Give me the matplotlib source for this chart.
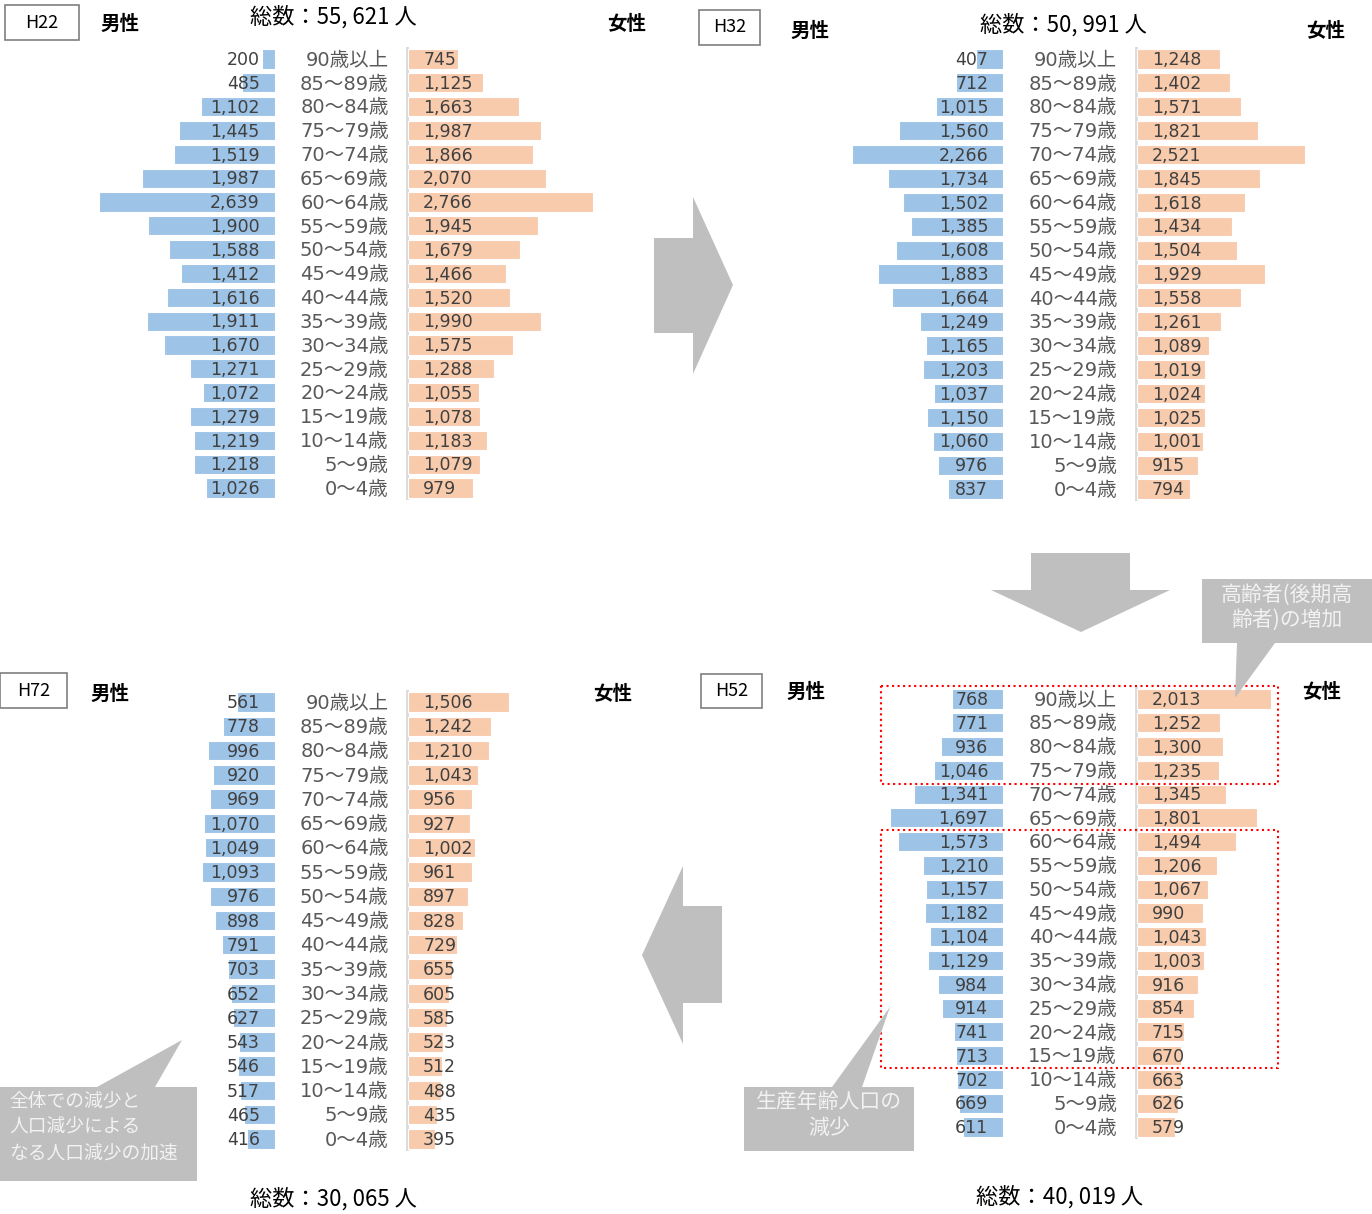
import numpy as np
import matplotlib
matplotlib.use("Agg")
import matplotlib.pyplot as plt
from matplotlib.patches import Rectangle, Polygon

plt.rcParams['font.family'] = ['DejaVu Sans', 'Noto Sans CJK JP']

# age groups, top to bottom
ages = ["90歳以上", "85～89歳", "80～84歳", "75～79歳", "70～74歳", "65～69歳",
        "60～64歳", "55～59歳", "50～54歳", "45～49歳", "40～44歳", "35～39歳",
        "30～34歳", "25～29歳", "20～24歳", "15～19歳", "10～14歳", "5～9歳", "0～4歳"]

h22_male = [200, 485, 1102, 1445, 1519, 1987, 2639, 1900, 1588, 1412, 1616, 1911, 1670, 1271, 1072, 1279, 1219, 1218, 1026]
h22_female = [745, 1125, 1663, 1987, 1866, 2070, 2766, 1945, 1679, 1466, 1520, 1990, 1575, 1288, 1055, 1078, 1183, 1079, 979]

h32_male = [407, 712, 1015, 1560, 2266, 1734, 1502, 1385, 1608, 1883, 1664, 1249, 1165, 1203, 1037, 1150, 1060, 976, 837]
h32_female = [1248, 1402, 1571, 1821, 2521, 1845, 1618, 1434, 1504, 1929, 1558, 1261, 1089, 1019, 1024, 1025, 1001, 915, 794]

h52_male = [768, 771, 936, 1046, 1341, 1697, 1573, 1210, 1157, 1182, 1104, 1129, 984, 914, 741, 713, 702, 669, 611]
h52_female = [2013, 1252, 1300, 1235, 1345, 1801, 1494, 1206, 1067, 990, 1043, 1003, 916, 854, 715, 670, 663, 626, 579]

h72_male = [561, 778, 996, 920, 969, 1070, 1049, 1093, 976, 898, 791, 703, 652, 627, 543, 546, 517, 465, 416]
h72_female = [1506, 1242, 1210, 1043, 956, 927, 1002, 961, 897, 828, 729, 655, 605, 585, 523, 512, 488, 435, 395]

totals = ["総数：55, 621 人", "総数：50, 991 人", "総数：40, 019 人", "総数：30, 065 人"]
years = ["H22", "H32", "H52", "H72"]

W, H = 1372, 1214
U = 15.0        # persons per pixel
GAP = 1000      # half gap between male and female bars (persons)
MALE_C = '#9DC3E6'
FEMALE_C = '#F8CBAD'
NARROW = ['Liberation Sans Narrow', 'Noto Sans CJK JP']
CJK = ['Noto Sans CJK JP', 'DejaVu Sans']

fig = plt.figure(figsize=(W / 100, H / 100), dpi=100)


def draw_panel(c, y_top, y_bot, male, female):
    dy = (y_bot - y_top) / 18
    pl = c - 330
    pr = min(c + 302, W)
    ax = fig.add_axes([pl / W, 1 - (y_bot + dy / 2) / H, (pr - pl) / W, (y_bot - y_top + dy) / H])
    ax.set_xlim((pl - c) * U, (pr - c) * U)
    ax.set_ylim(18.5, -0.5)
    ax.axis('off')
    y = np.arange(len(ages))
    male = np.array(male)
    female = np.array(female)
    ax.plot([GAP - 15, GAP - 15], [-0.5, 18.5], color='#D9D9D9', lw=2, zorder=1)
    ax.barh(y, -male, left=-GAP, height=0.8, color=MALE_C, edgecolor='white', lw=0.8, zorder=2)
    ax.barh(y, female, left=GAP, height=0.8, color=FEMALE_C, edgecolor='white', lw=0.8, zorder=2)
    for i in range(len(ages)):
        ax.text(-GAP - 15 * U, i + 0.05, f"{male[i]:,}", ha='right', va='center',
                fontsize=12.5, color='#404040', zorder=3)
        ax.text(GAP + 15 * U, i + 0.05, f"{female[i]:,}", ha='left', va='center',
                fontsize=12.5, color='#404040', zorder=3)
        ax.text(47 * U, i + 0.05, ages[i], ha='right', va='center',
                fontsize=14, color='#595959', zorder=3)
    return ax


draw_panel(341.5, 59, 488, h22_male, h22_female)
draw_panel(1070, 59, 489, h32_male, h32_female)
draw_panel(1070, 699, 1127, h52_male, h52_female)
draw_panel(341.5, 702, 1139, h72_male, h72_female)

# overlay in pixel coordinates for labels, arrows and callouts
ov = fig.add_axes([0, 0, 1, 1], zorder=10)
ov.set_xlim(0, W)
ov.set_ylim(H, 0)
ov.axis('off')

# year boxes
for (x0, y0, x1, y1), yr in zip([(5, 5, 79, 40), (699, 10, 760, 45), (701, 674, 762, 708), (0, 673, 67, 708)], years):
    ov.add_patch(Rectangle((x0, y0), x1 - x0, y1 - y0, fill=False, ec='#7F7F7F', lw=1.2))
    ov.text((x0 + x1) / 2, (y0 + y1) / 2, yr, ha='center', va='center', fontsize=13, family=NARROW)

# sex labels
for x, y in [(120, 24), (810, 31), (806, 692), (110, 694)]:
    ov.text(x, y, "男性", ha='center', va='center', fontsize=14, fontweight='bold', family=CJK)
for x, y in [(627, 24), (1326, 31), (1322, 692), (613, 694)]:
    ov.text(x, y, "女性", ha='center', va='center', fontsize=14, fontweight='bold', family=CJK)

# totals
for (x, y), t in zip([(333, 17), (1063, 25), (1060, 1197), (333, 1199)], totals):
    ov.text(x, y, t, ha='center', va='center', fontsize=16, family=NARROW)

# arrows
grey = '#BFBFBF'
ov.add_patch(Polygon([(654, 238), (693, 238), (693, 197), (733, 285), (693, 374), (693, 333), (654, 333)],
                     closed=True, fc=grey, ec='none'))
ov.add_patch(Polygon([(1031, 553), (1130, 553), (1130, 590), (1170, 590), (1081, 632), (991, 590), (1031, 590)],
                     closed=True, fc=grey, ec='none'))
ov.add_patch(Polygon([(722, 906), (683, 906), (683, 866), (642, 955), (683, 1044), (683, 1003), (722, 1003)],
                     closed=True, fc=grey, ec='none'))

# red dotted frames
ov.add_patch(Rectangle((881, 686), 397, 98, fill=False, ec='#FF0000', lw=1.5, ls=':'))
ov.add_patch(Rectangle((881, 830), 397, 238, fill=False, ec='#FF0000', lw=1.5, ls=':'))

# callouts
ov.add_patch(Polygon([(1202, 579), (1372, 579), (1372, 643), (1275, 643), (1235, 698), (1237, 643), (1202, 643)],
                     closed=True, fc=grey, ec='none'))
ov.text(1287, 607, "高齢者(後期高\n齢者)の増加", ha='center', va='center', fontsize=15,
        color='#F2F2F2', family=CJK, linespacing=1.2)

ov.add_patch(Polygon([(744, 1087), (832, 1087), (890, 1007), (862, 1087), (914, 1087), (914, 1151), (744, 1151)],
                     closed=True, fc=grey, ec='none'))
ov.text(829, 1115, "生産年齢人口の\n減少", ha='center', va='center', fontsize=15,
        color='#F2F2F2', family=CJK, linespacing=1.2)

ov.add_patch(Polygon([(0, 1087), (97, 1087), (182, 1040), (155, 1087), (197, 1087), (197, 1181), (0, 1181)],
                     closed=True, fc=grey, ec='none'))
for y, x, t in [(1101, 141, "全体での減少と"), (1127, 141, "人口減少による"), (1154, 178, "なる人口減少の加速")]:
    ov.text(x, y, t, ha='right', va='center', fontsize=13.5, color='#F2F2F2', family=CJK)

fig.savefig('out.png', dpi=100)
